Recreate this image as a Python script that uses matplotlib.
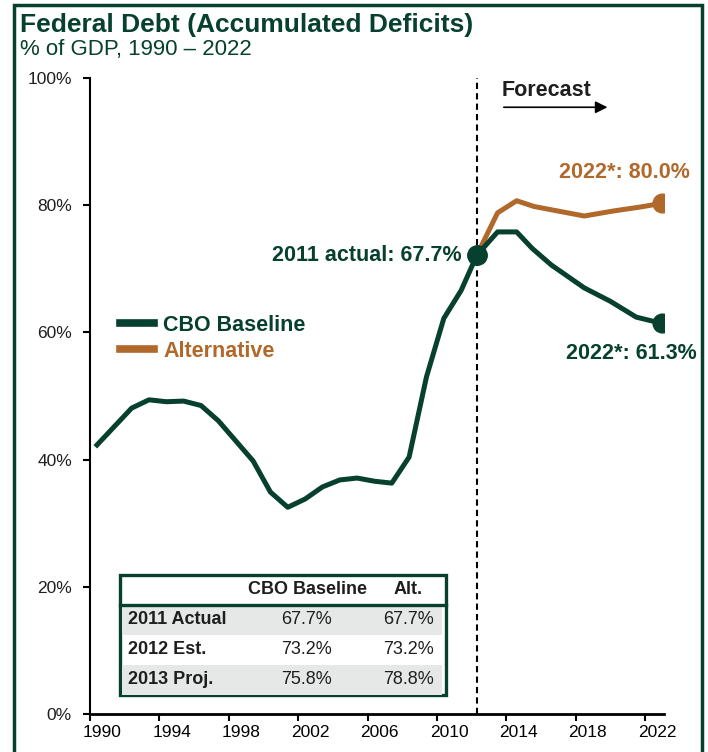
import matplotlib
matplotlib.use("Agg")
import matplotlib.pyplot as plt
from matplotlib.lines import Line2D
from matplotlib.patches import Rectangle

plt.rcParams['font.family'] = ['Liberation Sans', 'DejaVu Sans']

GREEN = '#07402f'
ORANGE = '#b0692b'
INK = '#1e1e1e'

# historical debt, % of GDP (both series share it)
hist_years = [1990, 1992, 1993, 1994, 1995, 1996, 1997, 1999, 2000, 2001, 2002,
              2003, 2004, 2005, 2006, 2007, 2008, 2009, 2010, 2011, 2011.9]
hist_debt = [42.3, 48.1, 49.4, 49.1, 49.2, 48.5, 46.1, 39.8, 34.9, 32.5, 33.8,
             35.7, 36.8, 37.1, 36.6, 36.3, 40.4, 53.0, 62.2, 66.6, 72.1]

# forecasts
base_years = [2011.9, 2013.1, 2014.2, 2015.1, 2016.2, 2018.1, 2019.6, 2021.1, 2022.6]
base_debt = [72.1, 75.8, 75.8, 73.2, 70.6, 67.0, 64.9, 62.4, 61.4]
alt_years = [2011.9, 2013.1, 2014.2, 2015.2, 2018.1, 2019.8, 2021.3, 2022.6]
alt_debt = [72.1, 78.8, 80.7, 79.8, 78.3, 79.1, 79.7, 80.3]

series_names = ['CBO Baseline', 'Alternative']
split_year = 2011.9

x_labels = [1990, 1994, 1998, 2002, 2006, 2010, 2014, 2018, 2022]
y_ticks = [0, 20, 40, 60, 80, 100]

table_header = ['', 'CBO Baseline', 'Alt.']
table_rows = ['2011 Actual', '2012 Est.', '2013 Proj.']
table_base = ['67.7%', '73.2%', '75.8%']
table_alt = ['67.7%', '73.2%', '78.8%']

fig = plt.figure(figsize=(7.08, 7.52), dpi=100)
ax = fig.add_axes([90/708, 38/752, 574/708, 636/752])

# lines
ax.plot(alt_years, alt_debt, color=ORANGE, lw=3.6, solid_joinstyle='round', zorder=3)
ax.plot(hist_years + base_years[1:], hist_debt + base_debt[1:], color=GREEN, lw=3.6,
        solid_joinstyle='round', zorder=4)
ax.plot(alt_years[-1], alt_debt[-1], 'o', color=ORANGE, ms=13.5, zorder=5)
ax.plot(base_years[-1], base_debt[-1], 'o', color=GREEN, ms=13.5, zorder=5)
ax.plot(split_year, hist_debt[-1], 'o', color=GREEN, ms=14, zorder=6)

ax.axvline(split_year, color='black', lw=1.5, dashes=(3, 2), zorder=2)

# annotations
ax.text(2011.0, 72.1, '2011 actual: 67.7%', ha='right', va='center', fontsize=15.5,
        weight='bold', color=GREEN)
ax.text(2024.2, 85.2, '2022*: 80.0%', ha='right', va='center', fontsize=15.5,
        weight='bold', color=ORANGE, clip_on=False)
ax.text(2024.6, 56.7, '2022*: 61.3%', ha='right', va='center', fontsize=15.5,
        weight='bold', color=GREEN, clip_on=False)
ax.text(2013.36, 98.0, 'Forecast', ha='left', va='center', fontsize=15.5,
        weight='bold', color=INK)
ax.annotate('', xy=(2019.6, 95.4), xytext=(2013.3, 95.4),
            arrowprops=dict(arrowstyle='-|>', color='black', lw=1.2, mutation_scale=18))

# axes: tick marks a bit left of the year, labels a bit right of it
ax.set_xlim(1989.596, 2022.699)
ax.set_ylim(0, 100)
ax.set_yticks(y_ticks)
ax.set_yticklabels([f'{v}%' for v in y_ticks])
ax.set_xticks([y - 0.4 for y in x_labels])
ax.set_xticklabels([])
ax.set_xticks([y + 0.3 for y in x_labels], minor=True)
ax.set_xticklabels([str(y) for y in x_labels], minor=True)
ax.tick_params(axis='both', labelsize=12.5, labelcolor=INK, length=5, width=1.5, direction='out')
ax.tick_params(axis='x', which='minor', length=0, labelsize=12.5, pad=8)
ax.tick_params(axis='y', pad=8)
for s in ['top', 'right']:
    ax.spines[s].set_visible(False)
ax.spines['left'].set_linewidth(1.5)
ax.spines['bottom'].set_linewidth(2)

# legend
handles = [Line2D([], [], color=GREEN, lw=5.5), Line2D([], [], color=ORANGE, lw=5.5)]
ax.legend(handles, series_names, loc='upper left', bbox_to_anchor=(120/708, 1 - 315/752),
          bbox_transform=fig.transFigure, frameon=False, prop={'weight': 'bold', 'size': 15.5},
          handlelength=1.6, handletextpad=0.4, labelspacing=0.22, borderpad=0,
          borderaxespad=0, labelcolor=[GREEN, ORANGE])

# table
def fx(px):
    return (px - 90) / 574

def fy(py):
    return (714 - py) / 636

T = ax.transAxes
for i in range(len(table_rows)):
    top = 605 + 30 * i
    if i % 2 == 0:
        ax.add_patch(Rectangle((fx(122), fy(top + 30)), fx(442) - fx(122), fy(top) - fy(top + 30),
                               transform=T, facecolor='#e5e8e7', edgecolor='none', zorder=7))
    cy = fy(top + 15)
    ax.text(fx(128), cy, table_rows[i], transform=T, ha='left', va='center', fontsize=13,
            weight='bold', color=INK, zorder=8)
    ax.text(fx(307), cy, table_base[i], transform=T, ha='center', va='center', fontsize=13,
            color=INK, zorder=8)
    ax.text(fx(408), cy, table_alt[i], transform=T, ha='center', va='center', fontsize=13,
            color=INK, zorder=8)
ax.text(fx(307), fy(590), table_header[1], transform=T, ha='center', va='center', fontsize=13,
        weight='bold', color=INK, zorder=8)
ax.text(fx(408), fy(590), table_header[2], transform=T, ha='center', va='center', fontsize=13,
        weight='bold', color=INK, zorder=8)
ax.add_patch(Rectangle((fx(120), fy(695)), fx(446) - fx(120), fy(575) - fy(695), transform=T,
                       facecolor='white', edgecolor=GREEN, lw=2.4, zorder=6))
ax.plot([fx(120), fx(446)], [fy(605), fy(605)], transform=T, color=GREEN, lw=2.4, zorder=9)

# titles and frame
fig.text(20/708, 1 - 25/752, 'Federal Debt (Accumulated Deficits)', fontsize=19, weight='bold',
         color=GREEN, ha='left', va='center')
fig.text(20/708, 1 - 50/752, '% of GDP, 1990 \u2013 2022', fontsize=16, color=GREEN,
         ha='left', va='center')
fig.patches.append(Rectangle((14/708, -0.02), (702 - 14)/708, 1 - 5/752 + 0.02,
                             transform=fig.transFigure, fill=False, edgecolor=GREEN, lw=2.5))

fig.savefig('out.png', dpi=100)
